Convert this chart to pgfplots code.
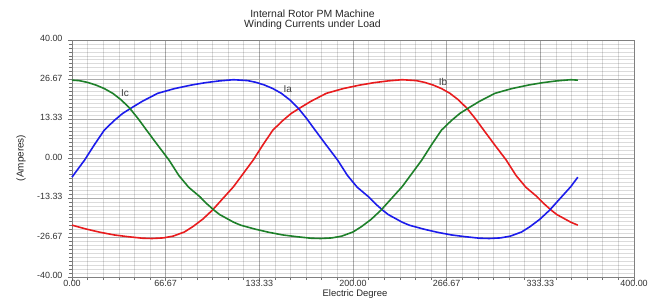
\documentclass[border=0pt]{standalone}
\usepackage{pgfplots}
\pgfplotsset{compat=1.18}
\usepackage{fontspec}
\setmainfont{Liberation Sans}
\definecolor{cred}{RGB}{232,28,30}
\definecolor{cgreen}{RGB}{30,128,42}
\definecolor{cblue}{RGB}{28,28,235}
\begin{document}
\begin{tikzpicture}[x=1bp,y=1bp]
\begin{axis}[at={(0,0)},anchor=south west, scale only axis, width=562bp, height=237bp,
 xmin=0,xmax=400,ymin=-40,ymax=40,
 xtick={0,66.6667,133.3333,200,266.6667,333.3333,400},
 xticklabels={0.00,66.67,133.33,200.00,266.67,333.33,400.00},
 ytick={-40,-26.6667,-13.3333,0,13.3333,26.6667,40},
 yticklabels={-40.00,-26.67,-13.33,0.00,13.33,26.67,40.00},
 minor xtick={11.1111,22.2222,33.3333,44.4444,55.5556,77.7778,88.8889,100,111.1111,122.2222,144.4444,155.5556,166.6667,177.7778,188.8889,211.1111,222.2222,233.3333,244.4444,255.5556,277.7778,288.8889,300,311.1111,322.2222,344.4444,355.5556,366.6667,377.7778,388.8889},
 minor ytick={-38.6667,-37.3333,-36,-34.6667,-33.3333,-32,-30.6667,-29.3333,-28,-25.3333,-24,-22.6667,-21.3333,-20,-18.6667,-17.3333,-16,-14.6667,-12,-10.6667,-9.3333,-8,-6.6667,-5.3333,-4,-2.6667,-1.3333,1.3333,2.6667,4,5.3333,6.6667,8,9.3333,10.6667,12,14.6667,16,17.3333,18.6667,20,21.3333,22.6667,24,25.3333,28,29.3333,30.6667,32,33.3333,34.6667,36,37.3333,38.6667},
 grid=both,
 major grid style={draw=black!32, line width=0.8bp},
 minor grid style={draw=black, draw opacity=0.14, line width=0.6bp},
 axis line style={draw=black!50,line width=0.8bp},
 tick align=outside, major tick length=4bp, minor tick length=3bp,
 tick style={draw=black!55,line width=0.6bp},
 xtick pos=bottom, ytick pos=left,
 xticklabel style={font=\fontsize{9}{10}\selectfont, text=black!80, yshift=4bp},
 yticklabel style={font=\fontsize{9}{10}\selectfont, text=black!80, xshift=-2bp, yshift=1.5bp},
 clip=false,
]
\addplot[cred, line width=1.6bp] coordinates {
(0,-22.5)(10,-23.8)(20,-24.9)(30,-25.8)(40,-26.4)(50,-26.9)(57,-27.0)(65,-26.8)(72,-26.2)(80,-24.8)(86,-23.0)(93,-20.5)(100,-17.4)(107,-13.7)(115,-9.5)(122,-5.0)(129,-0.5)(136,4.7)(143,9.6)(150,12.8)(156,15.2)(162,17.0)(170,19.3)(181,22.0)(193,23.6)(205,24.8)(215,25.6)(225,26.2)(235,26.6)(245,26.3)(251,25.7)(257,24.8)(263,23.6)(269,22.0)(275,19.8)(281,17.0)(287,13.5)(293,9.6)(301,4.5)(309,-0.5)(316,-5.7)(323,-9.7)(331,-12.9)(336,-15.3)(341,-17.4)(345,-18.9)(350,-20.2)(355,-21.5)(360,-22.5)
};
\addplot[cblue, line width=1.6bp] coordinates {
(0,-6.3)(2,-5.0)(9,-0.5)(16,4.7)(23,9.6)(30,12.8)(36,15.2)(42,17.0)(50,19.3)(61,22.0)(73,23.6)(85,24.8)(95,25.6)(105,26.2)(115,26.6)(125,26.3)(131,25.7)(137,24.8)(143,23.6)(149,22.0)(155,19.8)(161,17.0)(167,13.5)(173,9.6)(181,4.5)(189,-0.5)(196,-5.7)(203,-9.7)(211,-12.9)(216,-15.3)(221,-17.4)(225,-18.9)(230,-20.2)(235,-21.5)(240,-22.5)(250,-23.8)(260,-24.9)(270,-25.8)(280,-26.4)(290,-26.9)(297,-27.0)(305,-26.8)(312,-26.2)(320,-24.8)(326,-23.0)(333,-20.5)(340,-17.4)(347,-13.7)(355,-9.5)(360,-6.3)
};
\addplot[cgreen, line width=1.6bp] coordinates {
(0,26.45)(5,26.3)(11,25.7)(17,24.8)(23,23.6)(29,22.0)(35,19.8)(41,17.0)(47,13.5)(53,9.6)(61,4.5)(69,-0.5)(76,-5.7)(83,-9.7)(91,-12.9)(96,-15.3)(101,-17.4)(105,-18.9)(110,-20.2)(115,-21.5)(120,-22.5)(130,-23.8)(140,-24.9)(150,-25.8)(160,-26.4)(170,-26.9)(177,-27.0)(185,-26.8)(192,-26.2)(200,-24.8)(206,-23.0)(213,-20.5)(220,-17.4)(227,-13.7)(235,-9.5)(242,-5.0)(249,-0.5)(256,4.7)(263,9.6)(270,12.8)(276,15.2)(282,17.0)(290,19.3)(301,22.0)(313,23.6)(325,24.8)(335,25.6)(345,26.2)(355,26.6)(360,26.45)
};
\node[font=\fontsize{10}{12}\selectfont, text=black!75] at (axis cs:37.7,22) {Ic};
\node[font=\fontsize{10}{12}\selectfont, text=black!75] at (axis cs:153.5,23.4) {Ia};
\node[font=\fontsize{10}{12}\selectfont, text=black!75] at (axis cs:264,25.7) {Ib};
\end{axis}
\node[font=\fontsize{10.5}{12}\selectfont, text=black!85] at (240.5,263) {Internal Rotor PM Machine};
\node[font=\fontsize{10.5}{12}\selectfont, text=black!85] at (240.5,252) {Winding Currents under Load};
\node[font=\fontsize{9.5}{11}\selectfont, text=black!85] at (283,-17.5) {Electric Degree};
\node[font=\fontsize{10}{12}\selectfont, text=black!85, rotate=90] at (-51,119) {(Amperes)};
\pgfresetboundingbox
\path (-72,-21) rectangle (582,277);
\end{tikzpicture}
\end{document}
